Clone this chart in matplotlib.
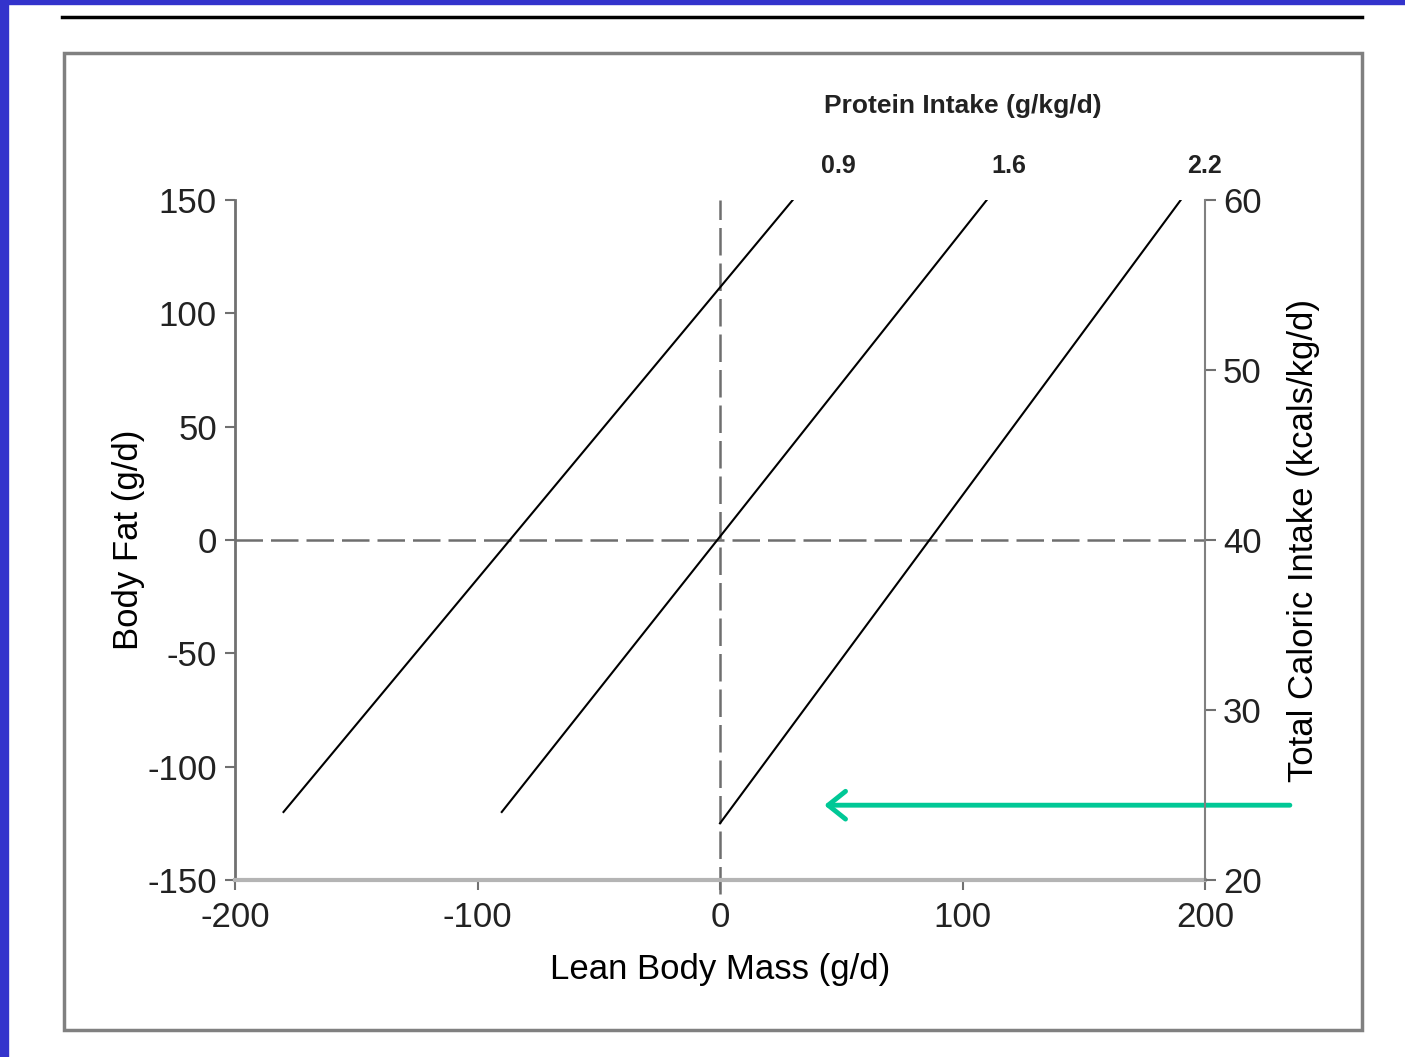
import matplotlib.pyplot as plt
from matplotlib.patches import Rectangle
from matplotlib.lines import Line2D

plt.rcParams['font.family'] = ['Liberation Sans', 'DejaVu Sans']
plt.rcParams['axes.unicode_minus'] = False

# protein intake lines: (lean mass, body fat) end points
protein_labels = ["0.9", "1.6", "2.2"]
lean_start = [-180, -90, 0]
fat_start = [-120, -120, -125]
lean_end = [30, 110, 190]
fat_end = [150, 150, 150]

# label positions above each line
label_x = [49, 119, 200]
label_y = 165

x_ticks = [-200, -100, 0, 100, 200]
y_ticks = [-150, -100, -50, 0, 50, 100, 150]
kcal_ticks = [20, 30, 40, 50, 60]

# green arrow pointing at the bottom of the 2.2 line
arrow_from = (235, -117)
arrow_to = (43, -117)

fig = plt.figure(figsize=(14.05, 10.57), dpi=100)

# page decoration: blue edges, black rule and grey frame
fig.patches.append(Rectangle((0, 0), 8 / 1405, 1, transform=fig.transFigure,
                             color='#3333cc', zorder=0))
fig.patches.append(Rectangle((0, 1 - 4 / 1057), 1, 4 / 1057, transform=fig.transFigure,
                             color='#3333cc', zorder=0))
fig.lines.append(Line2D([62 / 1405, 1362 / 1405], [1 - 17 / 1057, 1 - 17 / 1057],
                        transform=fig.transFigure, color='black', lw=2.5))
fig.patches.append(Rectangle((64 / 1405, 1 - 1030 / 1057), 1298 / 1405, 977 / 1057,
                             transform=fig.transFigure, fill=False,
                             edgecolor='#808080', lw=2.5))

ax = fig.add_axes([235 / 1405, 177 / 1057, 970 / 1405, 680 / 1057])
ax.set_xlim(-200, 200)
ax.set_ylim(-150, 150)

dash = (0, (11, 3.2))
ax.axhline(0, color='#6e6e6e', lw=1.8, linestyle=dash, zorder=1)
ax.axvline(0, color='#6e6e6e', lw=1.8, linestyle=dash, zorder=1, ymin=-0.02, clip_on=False)

for i in range(len(protein_labels)):
    ax.plot([lean_start[i], lean_end[i]], [fat_start[i], fat_end[i]],
            color='black', lw=1.5, zorder=2)
    ax.text(label_x[i], label_y, protein_labels[i], ha='center', va='center',
            fontsize=18, fontweight='bold', color='#222222', clip_on=False)

ax.text(100, 191.5, "Protein Intake (g/kg/d)", ha='center', va='center',
        fontsize=19, fontweight='bold', color='#222222', clip_on=False)

ax.spines['top'].set_visible(False)
ax.spines['right'].set_visible(False)
ax.spines['left'].set_color('#707070')
ax.spines['left'].set_linewidth(2)
ax.spines['bottom'].set_color('#b4b4b4')
ax.spines['bottom'].set_linewidth(3)

ax.set_xticks(x_ticks)
ax.set_yticks(y_ticks)
ax.tick_params(axis='both', labelsize=25, colors='#707070', labelcolor='#222222',
               length=7, width=1.5)
ax.tick_params(axis='x', pad=8)
ax.tick_params(axis='y', pad=6)
ax.set_xlabel("Lean Body Mass (g/d)", fontsize=25, labelpad=14)
ax.set_ylabel("Body Fat (g/d)", fontsize=25, labelpad=2)

ax2 = ax.twinx()
ax2.set_ylim(20, 60)
ax2.set_yticks(kcal_ticks)
for side in ['top', 'left', 'bottom']:
    ax2.spines[side].set_visible(False)
ax2.spines['right'].set_color('#808080')
ax2.spines['right'].set_linewidth(1.5)
ax2.tick_params(axis='y', labelsize=25, colors='#707070', labelcolor='#222222',
                length=8, width=1.5, pad=5)
ax2.set_ylabel("Total Caloric Intake (kcals/kg/d)", fontsize=25, labelpad=18)

ax.annotate("", xy=arrow_to, xytext=arrow_from, xycoords='data',
            annotation_clip=False,
            arrowprops=dict(arrowstyle='->,head_length=0.5,head_width=0.4',
                            color='#00c896', lw=3.5, mutation_scale=25,
                            shrinkA=0, shrinkB=0))

fig.savefig("out.png", dpi=100)
